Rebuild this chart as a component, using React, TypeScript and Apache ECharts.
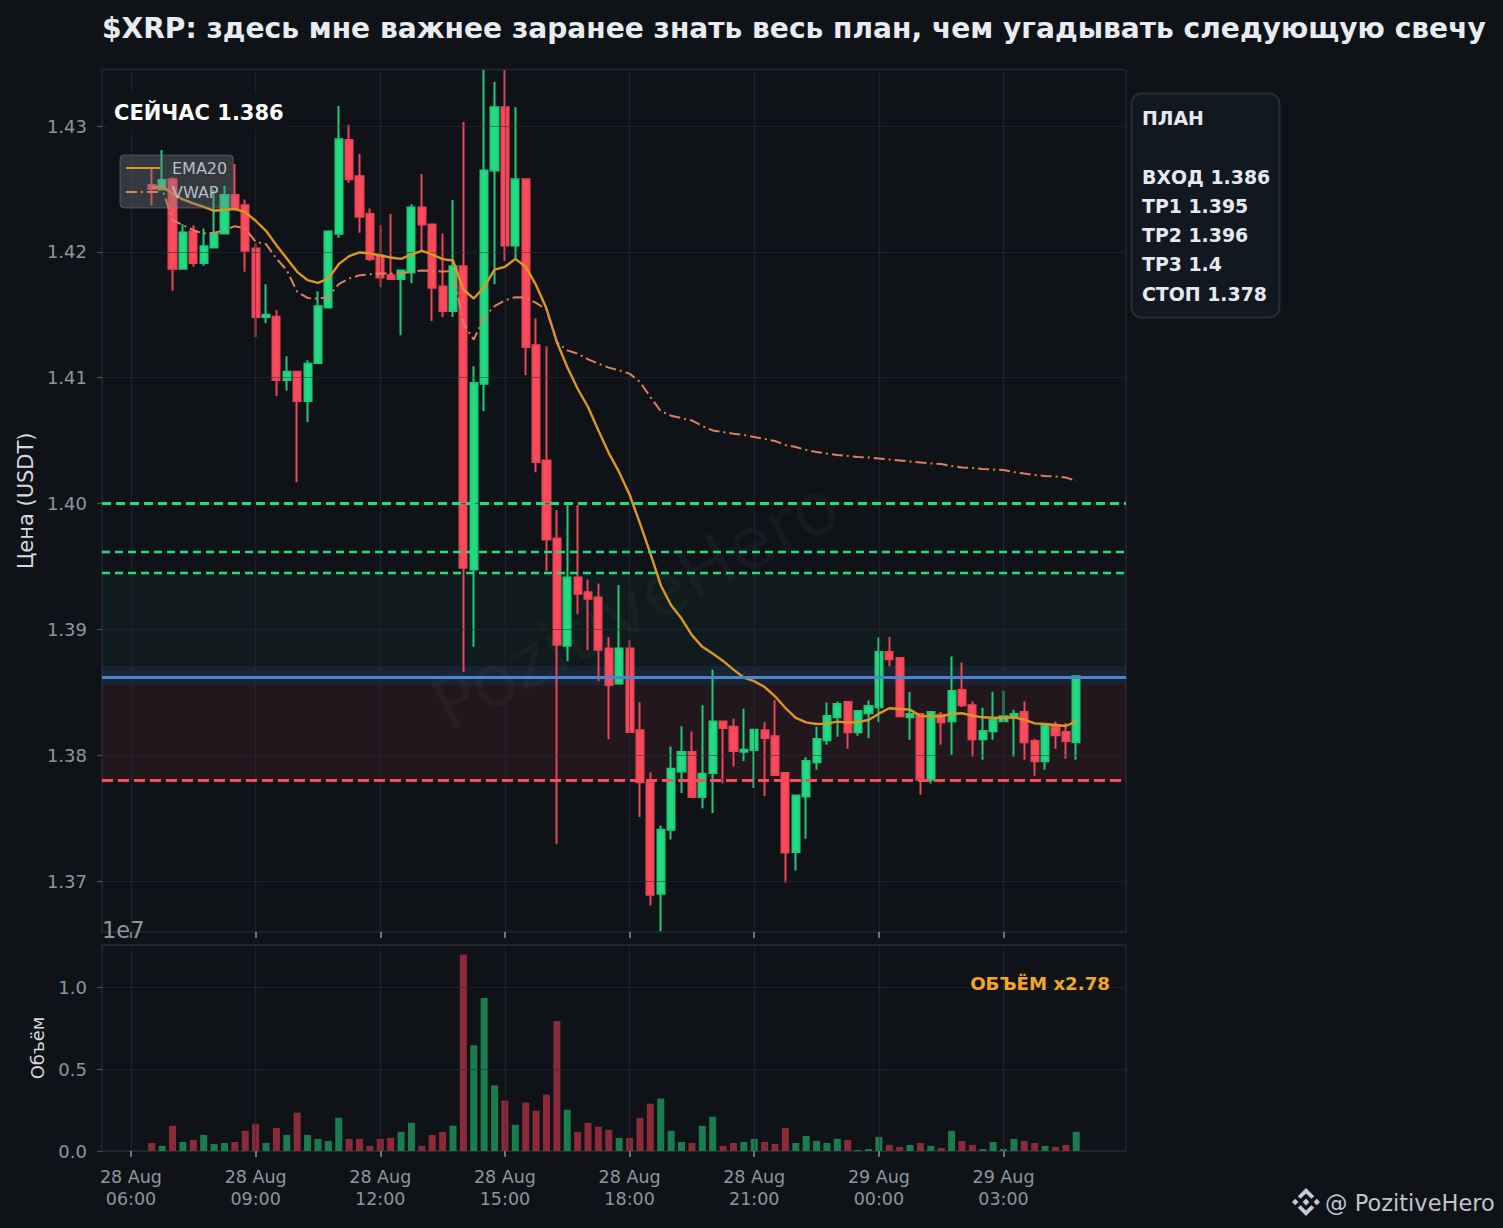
import React, { useEffect, useRef } from "react";
import * as echarts from "echarts";

const FONT = "DejaVu Sans";
const MIN15 = 15 * 60 * 1000;
const firstCandle = Date.UTC(2025, 7, 28, 6, 30);
const xMin = Date.UTC(2025, 7, 28, 6, 0) - 2.79 * MIN15;
const xMax = Date.UTC(2025, 7, 28, 6, 0) + 95.79 * MIN15;

const opens = [1.42531, 1.42496, 1.42576, 1.41865, 1.42162, 1.41912, 1.42034, 1.42146, 1.42451, 1.42371,
  1.42027, 1.41483, 1.41485, 1.40981, 1.41048, 1.40814, 1.41117, 1.41557, 1.42143, 1.42889,
  1.426, 1.423, 1.41973, 1.41814, 1.41785, 1.41836, 1.42353, 1.42218, 1.41724, 1.4153,
  1.41886, 1.39476, 1.40952, 1.42647, 1.43149, 1.4205, 1.42576, 1.41257, 1.40342, 1.39723,
  1.38869, 1.39412, 1.39294, 1.39254, 1.38848, 1.38569, 1.38848, 1.38198, 1.37781, 1.36898,
  1.37407, 1.3787, 1.38025, 1.37667, 1.37858, 1.38267, 1.38227, 1.38027, 1.38041, 1.38198,
  1.3815, 1.37858, 1.3723, 1.37672, 1.37943, 1.38118, 1.38301, 1.38423, 1.38182, 1.38333,
  1.38381, 1.38821, 1.38773, 1.38301, 1.38328, 1.37805, 1.38322, 1.38269, 1.38519, 1.38397,
  1.38126, 1.3819, 1.38269, 1.38296, 1.38344, 1.38113, 1.37951, 1.38235, 1.38184, 1.38102];
const closes = [1.42499, 1.4257, 1.41865, 1.42154, 1.41912, 1.42045, 1.42146, 1.42451, 1.4234, 1.42008,
  1.41483, 1.41501, 1.40981, 1.41048, 1.40814, 1.41111, 1.41568, 1.42162, 1.42894, 1.42576,
  1.42279, 1.41944, 1.41796, 1.41785, 1.41851, 1.42353, 1.42218, 1.41714, 1.4153, 1.41886,
  1.39489, 1.40958, 1.42647, 1.43149, 1.4205, 1.42576, 1.41244, 1.40329, 1.39715, 1.38877,
  1.39412, 1.39283, 1.39243, 1.38837, 1.38558, 1.38848, 1.38184, 1.37786, 1.36892, 1.37407,
  1.37893, 1.38025, 1.37667, 1.37853, 1.38267, 1.38216, 1.38033, 1.38043, 1.38203, 1.38137,
  1.37842, 1.37227, 1.3768, 1.37954, 1.38129, 1.38312, 1.38407, 1.38182, 1.38351, 1.38391,
  1.38821, 1.38763, 1.38309, 1.38328, 1.37805, 1.38344, 1.38261, 1.38511, 1.38397, 1.38126,
  1.38192, 1.3828, 1.38309, 1.38328, 1.38102, 1.37951, 1.38235, 1.38158, 1.38113, 1.38627];
const lows = [1.42371, 1.42496, 1.4169, 1.41865, 1.41881, 1.41889, 1.42034, 1.42146, 1.4234, 1.41841,
  1.41324, 1.41435, 1.40854, 1.40899, 1.4017, 1.40647, 1.41117, 1.41557, 1.42111, 1.42549,
  1.42151, 1.41928, 1.41721, 1.41785, 1.41337, 1.41753, 1.42013, 1.41451, 1.41483, 1.41482,
  1.38662, 1.38861, 1.40735, 1.41743, 1.41928, 1.4195, 1.41019, 1.40249, 1.39463, 1.37296,
  1.38747, 1.39121, 1.38834, 1.3859, 1.38126, 1.38569, 1.38184, 1.37508, 1.36805, 1.36601,
  1.3733, 1.37699, 1.37667, 1.37579, 1.3754, 1.37778, 1.37911, 1.37954, 1.37739, 1.37675,
  1.37842, 1.36988, 1.37084, 1.37336, 1.37885, 1.38084, 1.38147, 1.38052, 1.38155, 1.38134,
  1.38261, 1.38707, 1.38309, 1.38123, 1.37686, 1.37776, 1.38084, 1.38004, 1.38383, 1.37988,
  1.37964, 1.38123, 1.38269, 1.37988, 1.37964, 1.37837, 1.37885, 1.38052, 1.37972, 1.37964];
const highs = [1.42663, 1.42809, 1.42592, 1.4222, 1.42212, 1.42186, 1.42491, 1.42523, 1.42698, 1.42416,
  1.42066, 1.41743, 1.41536, 1.4117, 1.41048, 1.41138, 1.41687, 1.42172, 1.43159, 1.43008,
  1.42777, 1.42345, 1.42212, 1.423, 1.41851, 1.42379, 1.42618, 1.42218, 1.42146, 1.42411,
  1.43032, 1.4109, 1.43445, 1.4335, 1.43445, 1.43149, 1.42576, 1.4147, 1.41249, 1.39948,
  1.4001, 1.39988, 1.39397, 1.39365, 1.38938, 1.39352, 1.38914, 1.38421, 1.37863, 1.37442,
  1.3807, 1.3823, 1.38189, 1.38397, 1.3868, 1.38267, 1.3829, 1.3837, 1.38203, 1.38261,
  1.38436, 1.37858, 1.3768, 1.37985, 1.38227, 1.38418, 1.38426, 1.38423, 1.38351, 1.38434,
  1.38935, 1.3894, 1.38773, 1.38503, 1.38328, 1.38344, 1.38344, 1.38784, 1.38736, 1.38426,
  1.38378, 1.38505, 1.38513, 1.38362, 1.38426, 1.38131, 1.38235, 1.38267, 1.38256, 1.38627];
const volumes = [0.049, 0.031, 0.154, 0.055, 0.068, 0.098, 0.043, 0.049, 0.055, 0.123,
  0.166, 0.049, 0.141, 0.098, 0.234, 0.098, 0.074, 0.061, 0.203, 0.074,
  0.074, 0.031, 0.074, 0.08, 0.117, 0.172, 0.031, 0.098, 0.117, 0.154,
  1.199, 0.645, 0.934, 0.4, 0.307, 0.16, 0.295, 0.246, 0.344, 0.793,
  0.252, 0.117, 0.172, 0.148, 0.129, 0.08, 0.08, 0.203, 0.289, 0.32,
  0.123, 0.055, 0.049, 0.154, 0.209, 0.031, 0.049, 0.055, 0.074, 0.055,
  0.043, 0.141, 0.049, 0.092, 0.061, 0.049, 0.074, 0.068, 0.006, 0.012,
  0.086, 0.037, 0.025, 0.037, 0.049, 0.031, 0.018, 0.123, 0.061, 0.037,
  0.012, 0.055, 0.012, 0.074, 0.061, 0.049, 0.031, 0.025, 0.037, 0.117];
const ema20 = [1.42512, 1.42517, 1.42464, 1.42416, 1.42385, 1.42358, 1.42326, 1.42334, 1.4234, 1.42316,
  1.42247, 1.42167, 1.42053, 1.41947, 1.41841, 1.41775, 1.41753, 1.41788, 1.41902, 1.41966,
  1.41995, 1.41989, 1.41971, 1.41955, 1.41944, 1.41979, 1.42008, 1.41979, 1.41942, 1.41931,
  1.417, 1.41629, 1.41721, 1.41859, 1.41881, 1.41944, 1.41881, 1.41735, 1.41549, 1.41284,
  1.41085, 1.40912, 1.40767, 1.40581, 1.40401, 1.40249, 1.4007, 1.39842, 1.39603, 1.39351,
  1.39192, 1.39086, 1.38954, 1.38861, 1.38808, 1.38749, 1.3868, 1.38617, 1.38588, 1.38542,
  1.38468, 1.38375, 1.38296, 1.38261, 1.38248, 1.38251, 1.38267, 1.38259, 1.38264, 1.3828,
  1.3833, 1.38373, 1.38367, 1.38362, 1.38312, 1.38309, 1.38309, 1.38328, 1.38333, 1.38314,
  1.38301, 1.38298, 1.38298, 1.38301, 1.38282, 1.38253, 1.38248, 1.3824, 1.38232, 1.38269];
const vwap = [1.42512, 1.42504, 1.42252, 1.42212, 1.42172, 1.42146, 1.42151, 1.42172, 1.42204, 1.42186,
  1.4208, 1.42061, 1.41947, 1.41854, 1.41682, 1.41634, 1.41626, 1.41642, 1.41743, 1.41788,
  1.41814, 1.41822, 1.41828, 1.41828, 1.41828, 1.41844, 1.41851, 1.41849, 1.41844, 1.41846,
  1.4143, 1.41302, 1.41483, 1.41568, 1.41615, 1.41639, 1.41636, 1.41594, 1.41541, 1.41284,
  1.41217, 1.41191, 1.41146, 1.41111, 1.4108, 1.41058, 1.41032, 1.40966, 1.40846, 1.40735,
  1.40698, 1.40679, 1.4066, 1.40615, 1.40581, 1.40568, 1.40554, 1.40545, 1.40529, 1.40513,
  1.40497, 1.40465, 1.40449, 1.40425, 1.40409, 1.40397, 1.40386, 1.40378, 1.4037, 1.40366,
  1.40358, 1.4035, 1.40342, 1.40334, 1.40326, 1.40318, 1.40314, 1.40298, 1.40286, 1.40282,
  1.40274, 1.4027, 1.40266, 1.4025, 1.40238, 1.40227, 1.40219, 1.40215, 1.40207, 1.40179];

const xTickTimes = [
  Date.UTC(2025, 7, 28, 6), Date.UTC(2025, 7, 28, 9), Date.UTC(2025, 7, 28, 12), Date.UTC(2025, 7, 28, 15),
  Date.UTC(2025, 7, 28, 18), Date.UTC(2025, 7, 28, 21), Date.UTC(2025, 7, 29, 0), Date.UTC(2025, 7, 29, 3),
];
const xTickLabels = ["28 Aug\n06:00", "28 Aug\n09:00", "28 Aug\n12:00", "28 Aug\n15:00", "28 Aug\n18:00", "28 Aug\n21:00", "29 Aug\n00:00", "29 Aug\n03:00"];
const priceTicks = [1.37, 1.38, 1.39, 1.4, 1.41, 1.42, 1.43];
const targets = [1.3945, 1.3962, 1.4];
const stopLevel = 1.378;
const currentLevel = 1.3862;
const entryZone = [1.38558, 1.38709];
const title = "$XRP: здесь мне важнее заранее знать весь план, чем угадывать следующую свечу";
const planText = "ПЛАН\n\nВХОД 1.386\nTP1 1.395\nTP2 1.396\nTP3 1.4\nСТОП 1.378";

const BG = "#0f1318";
const GREEN = "#22dc82";
const RED = "#ff4a5c";
const GRID = "rgba(42,46,54,0.55)";
const TICK = "#90959e";
const AXIS_TEXT = "#90959e";

echarts.graphic.registerShape(
  "binanceLogo",
  echarts.graphic.extendPath(
    "M0 -3.4L3.4 0L0 3.4L-3.4 0Z M-14 0L-10.8 -3.2L-7.6 0L-10.8 3.2Z M14 0L10.8 -3.2L7.6 0L10.8 3.2Z M0 -14L8.2 -5.8L5.4 -3.2L0 -8.6L-5.4 -3.2L-8.2 -5.8Z M0 14L8.2 5.8L5.4 3.2L0 8.6L-5.4 3.2L-8.2 5.8Z",
    {}
  )
);

export default function App() {
  const ref = useRef<HTMLDivElement>(null);
  useEffect(() => {
    document.body.style.margin = "0";
    document.body.style.background = BG;
    const chart = echarts.init(ref.current!, null, { renderer: "svg" });
    const times = opens.map((_, i) => firstCandle + i * MIN15);
    const labelFor = (v: number) => xTickLabels[xTickTimes.indexOf(v)] ?? "";
    const commonX = {
      type: "value",
      min: xMin,
      max: xMax,
      z: 3,
      axisLine: { show: false },
      axisTick: { show: true, length: 6, customValues: xTickTimes, lineStyle: { color: TICK, width: 1.5 } },
      splitLine: { show: true, lineStyle: { color: GRID, width: 1.2 } },
    };
    chart.setOption({
      animation: false,
      backgroundColor: BG,
      textStyle: { fontFamily: FONT },
      title: {
        text: title,
        left: 102 - 5,
        top: 9,
        textStyle: { color: "#e8ebf0", fontSize: 28.1, fontWeight: "bold", fontFamily: FONT },
      },
      legend: {
        show: true,
        orient: "vertical",
        left: 120,
        top: 155,
        z: 8,
        data: ["EMA20", "VWAP"],
        itemWidth: 34,
        itemHeight: 14,
        itemGap: 8,
        padding: [5, 6, 8, 5],
        backgroundColor: "rgba(120,125,135,0.36)",
        borderColor: "rgba(130,135,145,0.45)",
        borderWidth: 1,
        borderRadius: 4,
        itemStyle: { opacity: 0 },
        textStyle: { color: "#b9bdc4", fontSize: 16, fontFamily: FONT, padding: [0, 0, 0, 7] },
      },
      grid: [
        { left: 102, top: 69.5, width: 1024, height: 862.5, show: true, borderColor: "#24282f", borderWidth: 1.5, backgroundColor: "transparent" },
        { left: 102, top: 945, width: 1024, height: 206, show: true, borderColor: "#24282f", borderWidth: 1.5, backgroundColor: "transparent" },
      ],
      xAxis: [
        { ...commonX, gridIndex: 0, axisLabel: { show: false } },
        {
          ...commonX,
          gridIndex: 1,
          axisLabel: {
            show: true,
            customValues: xTickTimes,
            formatter: (v: number) => labelFor(v),
            color: AXIS_TEXT,
            fontSize: 17.5,
            lineHeight: 22,
            margin: 15,
            fontFamily: FONT,
            hideOverlap: false,
          },
        },
      ],
      yAxis: [
        {
          type: "value",
          gridIndex: 0,
          min: 1.36595,
          max: 1.43449,
          z: 3,
          scale: true,
          name: "Цена (USDT)",
          nameLocation: "middle",
          nameGap: 66,
          nameRotate: 90,
          nameTextStyle: { color: "#d6d9de", fontSize: 21, fontFamily: FONT },
          axisLine: { show: false },
          axisTick: { show: true, length: 5, customValues: priceTicks, lineStyle: { color: "#4a4f58", width: 1.2 } },
          axisLabel: {
            show: true,
            customValues: priceTicks,
            formatter: (v: number) => v.toFixed(2),
            color: AXIS_TEXT,
            fontSize: 18,
            margin: 15,
            padding: [2, 0, 0, 0],
            fontFamily: FONT,
          },
          splitLine: { show: true, lineStyle: { color: GRID, width: 1.2 } },
        },
        {
          type: "value",
          gridIndex: 1,
          min: 0,
          max: 1.257,
          interval: 0.5,
          z: 3,
          name: "Объём",
          nameLocation: "middle",
          nameGap: 56,
          nameRotate: 90,
          nameTextStyle: { color: "#d6d9de", fontSize: 18, fontFamily: FONT },
          axisLine: { show: false },
          axisTick: { show: true, length: 5, lineStyle: { color: "#4a4f58", width: 1.2 } },
          axisLabel: {
            show: true,
            showMaxLabel: false,
            formatter: (v: number) => v.toFixed(1),
            color: AXIS_TEXT,
            fontSize: 18,
            margin: 15,
            padding: [2, 0, 0, 0],
            fontFamily: FONT,
          },
          splitLine: { show: true, lineStyle: { color: GRID, width: 1.2 } },
        },
      ],
      series: [
        {
          type: "candlestick",
          name: "Price",
          xAxisIndex: 0,
          yAxisIndex: 0,
          z: 2,
          barWidth: 7.6,
          encode: { x: 0, y: [1, 2, 3, 4] },
          itemStyle: { color: GREEN, color0: RED, borderColor: "#1ecb78", borderColor0: "#ec4557", borderWidth: 2 },
          data: times.map((t, i) => [t, opens[i], closes[i], lows[i], highs[i]]),
          markArea: {
            silent: true,
            z: 1,
            data: [
              [{ yAxis: entryZone[1], itemStyle: { color: "rgba(34,220,130,0.04)" } }, { yAxis: targets[0] }],
              [{ yAxis: entryZone[0], itemStyle: { color: "rgba(74,128,200,0.16)" } }, { yAxis: entryZone[1] }],
              [{ yAxis: stopLevel, itemStyle: { color: "rgba(255,74,92,0.08)" } }, { yAxis: entryZone[0] }],
            ],
          },
          markLine: {
            silent: true,
            z: 5,
            precision: 6,
            symbol: "none",
            label: { show: false },
            data: [
              { yAxis: targets[2], lineStyle: { color: GREEN, type: [9, 5], width: 2.8, opacity: 1 } },
              { yAxis: targets[1], lineStyle: { color: GREEN, type: [8, 5], width: 2.4, opacity: 1 } },
              { yAxis: targets[0], lineStyle: { color: GREEN, type: [8, 5], width: 2.4, opacity: 1 } },
              { yAxis: stopLevel, lineStyle: { color: RED, type: [11, 5], width: 3.2, opacity: 1 } },
              { yAxis: currentLevel, lineStyle: { color: "#5084c8", type: "solid", width: 3, opacity: 1 } },
            ],
          },
        },
        {
          type: "line",
          name: "EMA20",
          xAxisIndex: 0,
          yAxisIndex: 0,
          z: 4,
          symbol: "none",
          lineStyle: { color: "#dd9720", width: 2.4 },
          itemStyle: { color: "#dd9720" },
          data: times.map((t, i) => [t, ema20[i]]),
        },
        {
          type: "line",
          name: "VWAP",
          xAxisIndex: 0,
          yAxisIndex: 0,
          z: 4,
          symbol: "none",
          lineStyle: { color: "#df7f60", width: 2, type: [11, 4, 2, 4] },
          itemStyle: { color: "#df7f60" },
          data: times.map((t, i) => [t, vwap[i]]),
        },
        {
          type: "bar",
          name: "Volume",
          xAxisIndex: 1,
          yAxisIndex: 1,
          z: 2,
          barWidth: 7,
          data: times.map((t, i) => ({
            value: [t, volumes[i]],
            itemStyle: { color: closes[i] >= opens[i] ? "#1a7d4e" : "#8b2a38" },
          })),
        },
      ],
      graphic: [
        {
          type: "text",
          z: 1,
          x: 635,
          y: 605,
          rotation: 0.49,
          style: { text: "PozitiveHero", fontSize: 72, fontFamily: FONT, fill: "rgba(255,255,255,0.03)", textAlign: "center", textVerticalAlign: "middle" },
        },
        { type: "rect", z: 6, shape: { x: 108, y: 93, width: 180, height: 37 }, style: { fill: BG } },
        {
          type: "text",
          z: 7,
          x: 114,
          y: 112.5,
          style: { text: "СЕЙЧАС 1.386", fontSize: 21, fontWeight: "bold", fontFamily: FONT, fill: "#ffffff", textVerticalAlign: "middle" },
        },
        {
          type: "text",
          z: 7,
          x: 1110,
          y: 983.2,
          style: { text: "ОБЪЁМ x2.78", fontSize: 18.2, fontWeight: "bold", fontFamily: FONT, fill: "#f5a623", textAlign: "right", textVerticalAlign: "middle" },
        },
        { type: "text", z: 7, x: 102, y: 930, style: { text: "1e7", fontSize: 22.5, fontFamily: FONT, fill: "#90959e", textVerticalAlign: "middle" } },
        {
          type: "rect",
          z: 6,
          shape: { x: 1131.5, y: 93.5, width: 148, height: 224, r: 10 },
          style: { fill: "#121820", stroke: "#262c38", lineWidth: 2 },
        },
        {
          type: "text",
          z: 7,
          x: 1142,
          y: 103.8,
          style: { text: planText, fontSize: 18.9, lineHeight: 29.2, fontWeight: "bold", fontFamily: FONT, fill: "#e6e9ef" },
        },
        { type: "binanceLogo", z: 7, x: 1306, y: 1202, scaleX: 1, scaleY: 1, style: { fill: "#c8ccd2" } },
        { type: "text", z: 7, x: 1325, y: 1203, style: { text: "@ PozitiveHero", fontSize: 22.5, fontFamily: FONT, fill: "#c0c4cb", textVerticalAlign: "middle" } },
      ],
    });
    return () => chart.dispose();
  }, []);
  return <div ref={ref} style={{ position: "absolute", left: 0, top: 0, width: 1503, height: 1228 }} />;
}
